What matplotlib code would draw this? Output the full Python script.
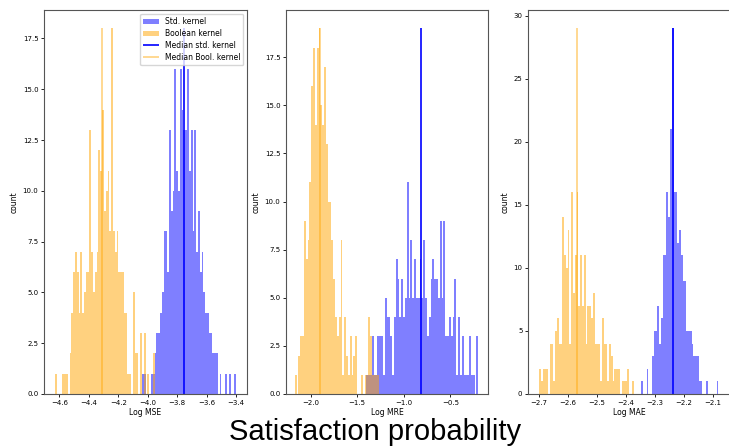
import numpy as np
import matplotlib
matplotlib.use("Agg")
import matplotlib.pyplot as plt

# Histogram counts per metric, 100 shared bins spanning each metric's range
mse_range = (-4.63, -3.40)
mse_std = [0] * 40 + [
    0, 0, 0, 0, 0, 0, 0, 0, 1, 1,
    0, 0, 0, 1, 1, 2, 3, 3, 4, 5,
    8, 8, 6, 13, 9, 10, 16, 11, 10, 16,
    14, 13, 13, 16, 11, 13, 8, 13, 7, 9,
    6, 7, 5, 4, 4, 3, 3, 2, 2, 2,
    0, 1, 0, 0, 1, 0, 1, 0, 0, 1]
mse_bool = [
    1, 0, 0, 0, 1, 1, 1, 0, 2, 4,
    6, 7, 6, 4, 7, 4, 5, 6, 6, 13,
    7, 5, 6, 7, 12, 11, 14, 9, 10, 11,
    8, 18, 8, 7, 8, 6, 6, 6, 4, 4,
    1, 1, 0, 5, 2, 2, 0, 3, 0, 3,
    0, 1, 0, 0, 2, 0, 0, 0, 0, 0] + [0] * 40

mre_range = (-2.17, -0.20)
mre_std = [0] * 30 + [
    0, 0, 0, 0, 0, 0, 0, 0, 0, 1,
    1, 1, 3, 1, 1, 3, 3, 3, 1, 5,
    4, 4, 3, 1, 4, 7, 6, 4, 6, 4,
    5, 11, 5, 8, 5, 7, 5, 5, 7, 5,
    8, 5, 3, 4, 6, 7, 6, 6, 5, 9,
    5, 9, 3, 3, 4, 3, 4, 6, 1, 4,
    1, 3, 1, 1, 1, 3, 1, 1, 0, 3]
mre_bool = [
    1, 0, 2, 3, 3, 9, 7, 8, 11, 16,
    18, 14, 18, 19, 15, 14, 17, 13, 10, 10,
    8, 6, 4, 3, 4, 8, 1, 4, 2, 1,
    3, 1, 2, 3, 0, 0, 1, 0, 1, 1,
    4, 3, 1, 1, 1, 1, 0, 0, 0, 0] + [0] * 50

mae_range = (-2.70, -2.08)
mae_std = [0] * 50 + [
    0, 0, 0, 0, 0, 0, 0, 1, 0, 0,
    2, 0, 0, 3, 5, 5, 7, 4, 6, 11,
    11, 16, 14, 21, 29, 16, 16, 12, 13, 11,
    9, 9, 5, 5, 5, 4, 3, 3, 3, 1,
    1, 0, 0, 1, 0, 0, 0, 0, 0, 1]
mae_bool = [
    2, 1, 2, 2, 2, 0, 4, 4, 1, 5,
    6, 4, 4, 14, 11, 10, 13, 4, 16, 8,
    11, 16, 7, 11, 7, 11, 4, 7, 7, 6,
    8, 4, 4, 4, 1, 6, 4, 4, 1, 4,
    3, 1, 2, 2, 2, 0, 1, 1, 1, 2,
    0, 0, 1, 0, 0, 0, 0, 0, 0, 0] + [0] * 40

# Medians of each kernel's log error
median_std = [-3.755, -0.818, -2.236]
median_bool = [-4.311, -1.900, -2.569]

x_labels = ["Log MSE", "Log MRE", "Log MAE"]
x_ticks = [
    [-4.6, -4.4, -4.2, -4.0, -3.8, -3.6, -3.4],
    [-2.0, -1.5, -1.0, -0.5],
    [-2.7, -2.6, -2.5, -2.4, -2.3, -2.2, -2.1],
]
y_ticks = [
    [0.0, 2.5, 5.0, 7.5, 10.0, 12.5, 15.0, 17.5],
    [0.0, 2.5, 5.0, 7.5, 10.0, 12.5, 15.0, 17.5],
    [0, 5, 10, 15, 20, 25, 30],
]
title = "Satisfaction probability"

ranges = [mse_range, mre_range, mae_range]
std_counts = [mse_std, mre_std, mae_std]
bool_counts = [mse_bool, mre_bool, mae_bool]

# Layout (pixels)
W, H = 729, 447
panels_px = [(44, 203), (286, 202), (528, 202)]
bottom_px, height_px = 53, 384
x_limits = [(-4.705, -3.325), (-2.264, -0.096), (-2.738, -2.04)]

fig = plt.figure(figsize=(W / 100, H / 100), dpi=100)

for i in range(3):
    left, width = panels_px[i]
    ax = fig.add_axes([left / W, bottom_px / H, width / W, height_px / H])
    lo, hi = ranges[i]
    edges = np.linspace(lo, hi, 101)
    centers = 0.5 * (edges[:-1] + edges[1:])
    s = np.asarray(std_counts[i], dtype=float)
    b = np.asarray(bool_counts[i], dtype=float)
    ax.hist(centers, bins=edges, weights=s, color="blue", alpha=0.5,
            label="Std. kernel")
    ax.hist(centers, bins=edges, weights=b, color="orange", alpha=0.5,
            label="Boolean kernel")
    top = max(s.max(), b.max())
    ax.vlines(median_std[i], 0, top, color="blue", lw=1.2,
              label="Median std. kernel")
    ax.vlines(median_bool[i], 0, top, color="orange", lw=1.2, alpha=0.5,
              label="Median Bool. kernel")
    ax.set_xlim(*x_limits[i])
    ax.set_ylim(0, top * 1.05)
    ax.set_xticks(x_ticks[i])
    ax.set_yticks(y_ticks[i])
    if i < 2:
        ax.set_yticklabels([f"{v:.1f}" for v in y_ticks[i]])
    ax.set_xlabel(x_labels[i], fontsize=5.5, labelpad=2)
    ax.set_ylabel("count", fontsize=5.5, labelpad=3)
    ax.tick_params(labelsize=5, length=2.5, width=0.6, pad=1.5)
    for sp in ax.spines.values():
        sp.set_color("#555555")
        sp.set_linewidth(0.8)
    if i == 0:
        ax.legend(loc="upper right", fontsize=5.5, framealpha=0.8,
                  borderpad=0.4, handlelength=2.0, labelspacing=0.4)

fig.text(0.514, 0.034, title, ha="center", va="center", fontsize=21,
         family="Liberation Sans")

fig.savefig("out.png", dpi=100)
